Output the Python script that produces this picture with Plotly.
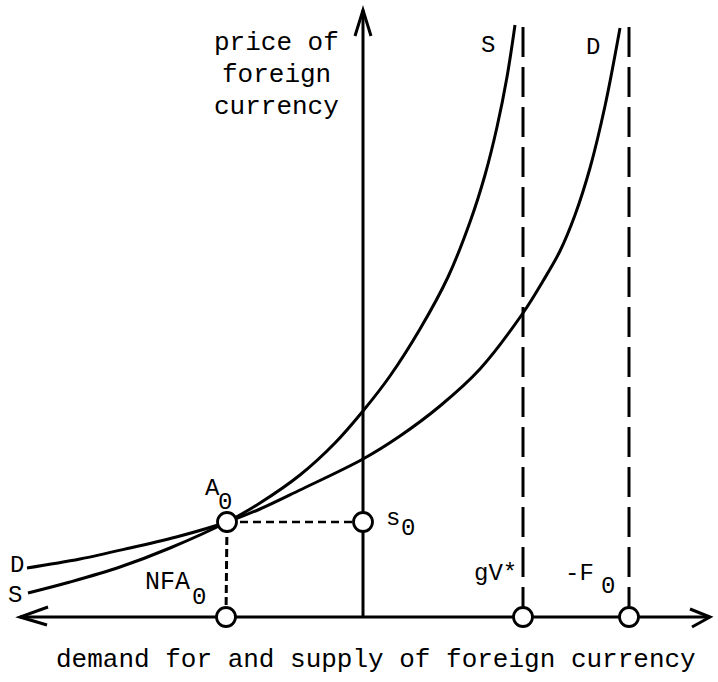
import plotly.graph_objects as go

# ---- data (quantity axis: x, price axis: y; origin at the price axis / quantity axis crossing)
supply_x = [-335, -293, -243, -193, -136, -103, -63, -28, 0, 27, 57, 85, 107, 122, 134, 144, 152]
supply_y = [24, 35, 50, 69, 95, 114, 142, 174, 206, 241, 288, 340, 395, 442, 490, 540, 592]

demand_x = [-336, -283, -233, -183, -136, -103, -63, 0, 37, 77, 117, 160, 180, 197, 212, 227, 242, 257]
demand_y = [49, 58, 69, 81, 95, 108, 127, 158, 181, 211, 248, 304, 336, 366, 402, 449, 511, 589]

A0 = (-136, 95)          # equilibrium point
s0_price = 95            # spot rate on the price axis
NFA0 = -137              # net foreign assets on the quantity axis
gV_star = 160            # asymptote of S
minus_F0 = 266           # asymptote of D
asym_top = 592

x_axis_left, x_axis_right = -343, 347
y_axis_top = 607

X_RANGE = [-363, 355]
Y_RANGE = [-65, 617]

FONT = "Liberation Mono"
LW = 3.0

fig = go.Figure()

# curves
fig.add_trace(go.Scatter(x=supply_x, y=supply_y, mode="lines",
                         line=dict(color="black", width=LW, shape="spline", smoothing=1.0),
                         hoverinfo="skip", showlegend=False))
fig.add_trace(go.Scatter(x=demand_x, y=demand_y, mode="lines",
                         line=dict(color="black", width=LW, shape="spline", smoothing=1.0),
                         hoverinfo="skip", showlegend=False))

# asymptote dashed lines
for xa in (gV_star, minus_F0):
    fig.add_trace(go.Scatter(x=[xa, xa], y=[0, asym_top], mode="lines",
                             line=dict(color="black", width=3, dash="30px,10px"),
                             hoverinfo="skip", showlegend=False))

# short dashed guide lines from A0
fig.add_trace(go.Scatter(x=[A0[0], 0], y=[A0[1], s0_price], mode="lines",
                         line=dict(color="black", width=2.5, dash="8px,5px"),
                         hoverinfo="skip", showlegend=False))
fig.add_trace(go.Scatter(x=[NFA0, A0[0]], y=[0, A0[1]], mode="lines",
                         line=dict(color="black", width=3, dash="8px,4px"),
                         hoverinfo="skip", showlegend=False))

# axes
fig.add_shape(type="line", x0=x_axis_left, x1=x_axis_right, y0=0, y1=0,
              line=dict(color="black", width=LW), layer="below")
fig.add_shape(type="line", x0=0, x1=0, y0=0, y1=y_axis_top,
              line=dict(color="black", width=3), layer="below")

# arrowheads (open chevrons) built from axis end points
def chevron(tx, ty, dx1, dy1, dx2, dy2):
    fig.add_shape(type="path",
                  path=f"M {tx+dx1},{ty+dy1} L {tx},{ty} L {tx+dx2},{ty+dy2}",
                  line=dict(color="black", width=3))

chevron(x_axis_left, 0, 28, 10, 27, -8)
chevron(x_axis_right, 0, -20, 8, -18, -10)
chevron(0, y_axis_top, -8, -26, 8, -26)

# circles
fig.add_trace(go.Scatter(x=[A0[0], 0, NFA0, gV_star, minus_F0],
                         y=[A0[1], s0_price, 0, 0, 0], mode="markers",
                         marker=dict(size=19, color="white", line=dict(color="black", width=2.8)),
                         hoverinfo="skip", showlegend=False))

def label(text, x, y, size=24, xanchor="center"):
    fig.add_annotation(x=x, y=y, text=text, showarrow=False, xanchor=xanchor, yanchor="middle",
                       font=dict(family=FONT, size=size, color="black"))

# axis titles
label("price of", -87, 574, 26)
label("foreign", -87, 542, 26)
label("currency", -87, 510, 26)
label("demand for and supply of foreign currency", 13, -43, 26)

# curve labels
label("S", 125, 572, 24)
label("D", 230, 570, 24)
label("D", -346, 52, 24)
label("S", -348, 22, 24)

# point labels
label("A", -151, 129, 24)
label("0", -138, 115, 24)
label("s", 30, 99, 24)
label("0", 45, 89, 24)
label("NFA", -196, 35, 25)
label("0", -164, 20, 24)
label("gV*", 132, 44, 24)
label("-F", 216, 44, 24)
label("0", 245, 31, 24)

fig.update_layout(
    width=718, height=682,
    margin=dict(l=0, r=0, t=0, b=0),
    paper_bgcolor="white", plot_bgcolor="white",
    xaxis=dict(range=X_RANGE, visible=False, fixedrange=True),
    yaxis=dict(range=Y_RANGE, visible=False, fixedrange=True),
    showlegend=False,
)

fig.write_html("out.html", config={"displayModeBar": False},
               post_script="document.body.style.margin='0';document.body.style.padding='0';")
